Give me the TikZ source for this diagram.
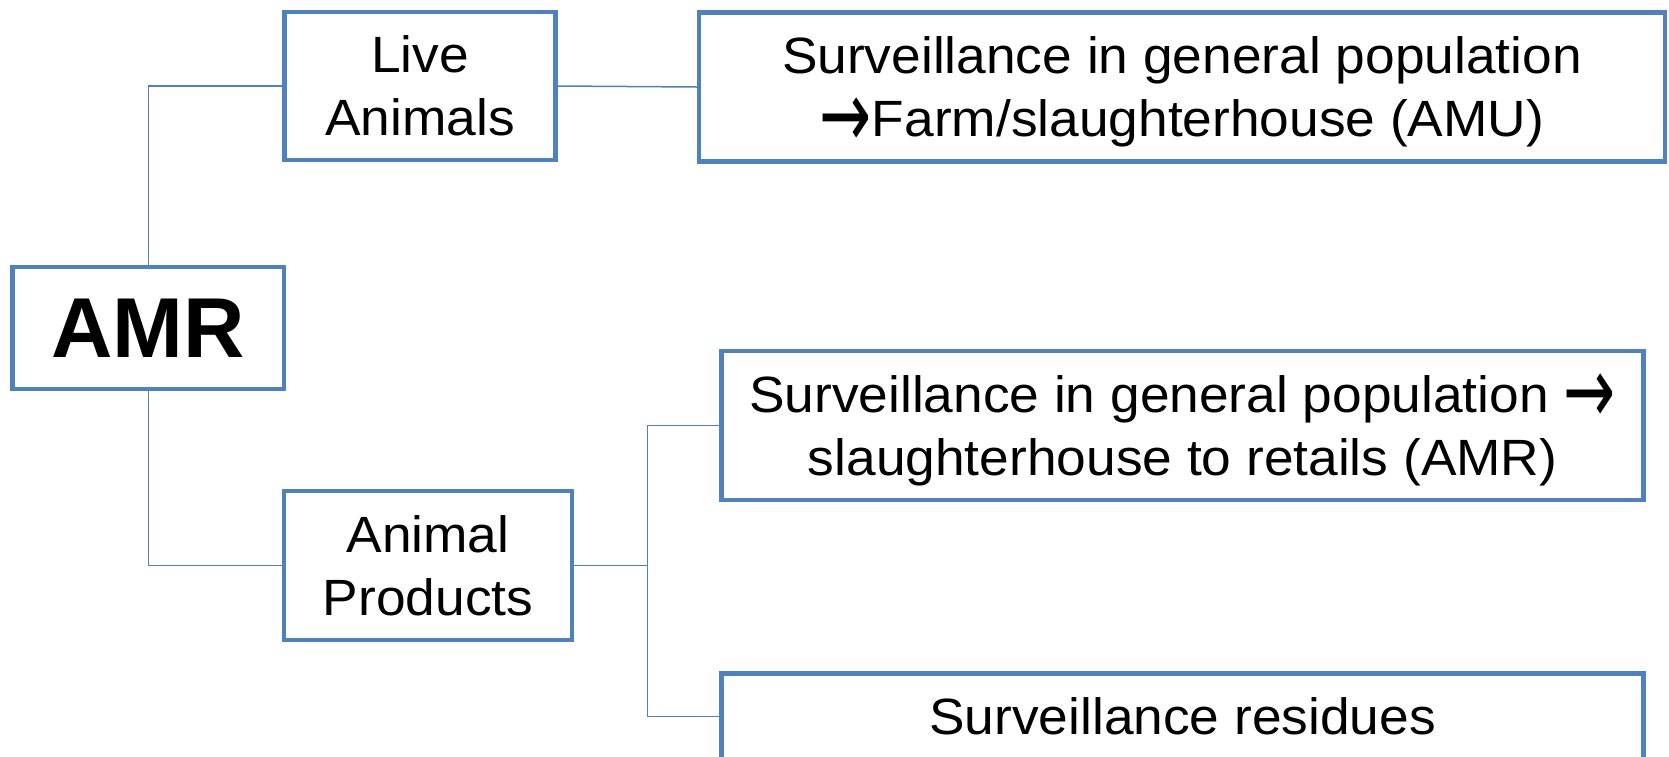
\documentclass[tikz,border=0pt]{standalone}
\usepackage{fontspec}
\setmainfont[FakeStretch=1.045]{Liberation Sans}
\newfontfamily\amrfont{Liberation Sans}
\newfontfamily\arrowfont{DejaVu Sans}
\newcommand{\bigarrow}{{\arrowfont\raisebox{-11pt}{\scalebox{1.22}[1.85]{→}}}}
\definecolor{boxblue}{HTML}{4F81BD}
\begin{document}
\begin{tikzpicture}[x=1pt,y=-1pt,
  box/.style={draw=boxblue, line width=4.5pt, fill=white, rectangle, inner sep=0pt,
    align=center, font=\fontsize{51}{63}\selectfont},
  conn/.style={draw=boxblue, line width=1.5pt}]
\useasboundingbox (0,0) rectangle (1669,756);
\clip (0,0) rectangle (1669,756);
\node[box, minimum width=271.4pt, minimum height=122pt,
  font=\amrfont\fontsize{85}{100}\selectfont\bfseries] (amr) at (148.3,328) {AMR};
\node[box, minimum width=271pt, minimum height=148.3pt] (la) at (420.2,86) {Live\\Animals};
\node[box, minimum width=288pt, minimum height=149pt] (ap) at (428,565.5) {Animal\\Products};
\node[box, minimum width=966pt, minimum height=149.4pt] (tr) at (1182,87)
  {\rule{0pt}{47pt}Surveillance in general population\\\bigarrow Farm/slaughterhouse (AMU)};
\node[box, minimum width=921.8pt, minimum height=149.3pt] (mr) at (1182.6,425.4)
  {\rule{0pt}{47pt}Surveillance in general population \bigarrow\\slaughterhouse to retails (AMR)};
\node[box, minimum width=921.8pt, minimum height=86.7pt] (br) at (1182.6,716.6)
  {Surveillance residues};
\coordinate (jx) at (647.5,565.5);
\draw[conn] (amr.north) |- (la.west);
\draw[conn] (amr.south) |- (ap.west);
\draw[conn] (la.east) -- (tr.west);
\draw[conn] (ap.east) -- (jx);
\draw[conn] (mr.west) -| (jx) |- (br.west);
\end{tikzpicture}
\end{document}
